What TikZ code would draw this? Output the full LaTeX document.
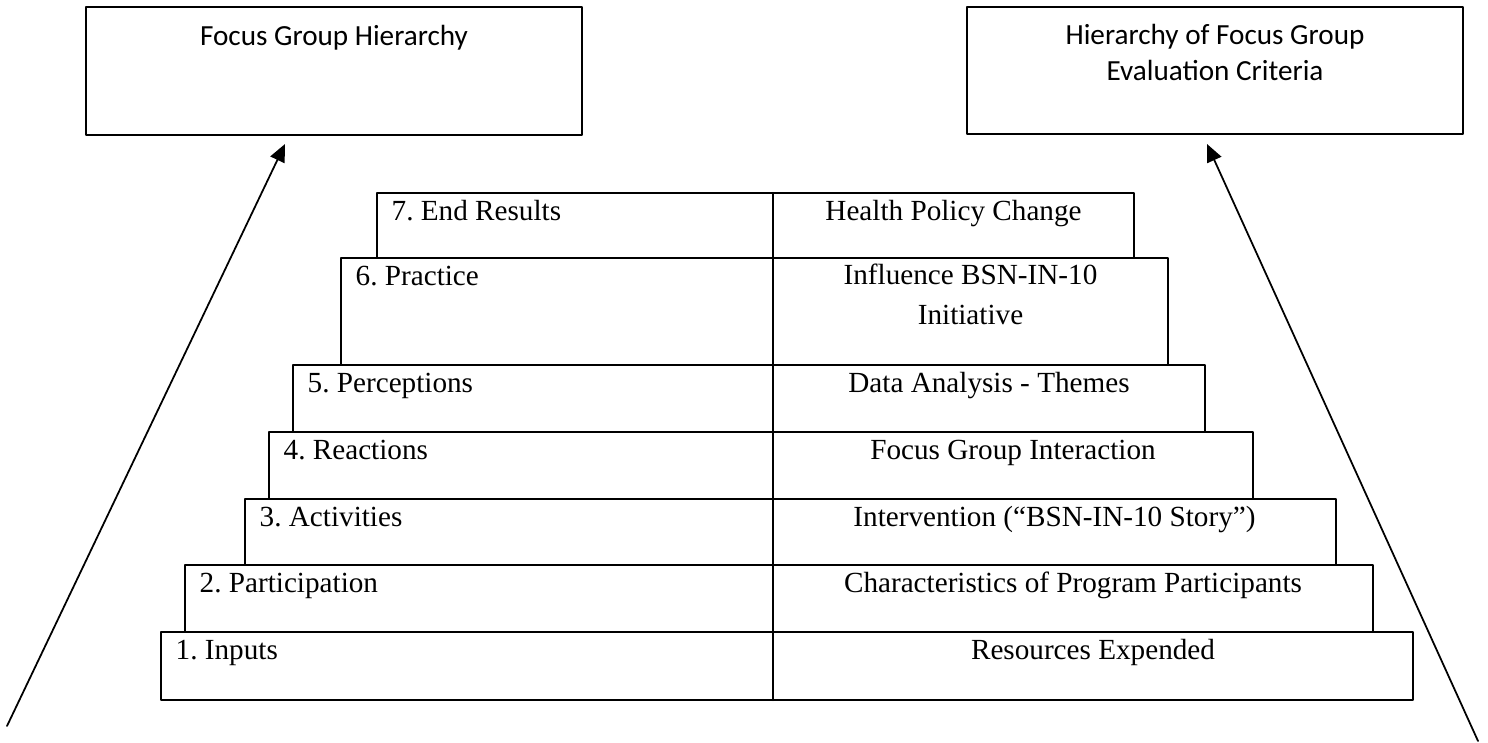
\documentclass[tikz,border=0pt]{standalone}
\usepackage{fontspec}
\setmainfont{Liberation Serif}
\newfontfamily\boxfont{Carlito}
\usetikzlibrary{arrows.meta}
\frenchspacing
\tikzset{
	stepbox/.style={line width=0.6pt},
	topbox/.style={line width=0.5pt},
	levellabel/.style={anchor=base west,inner sep=0pt,font=\fontsize{8.3}{11.2}\selectfont},
	critlabel/.style={anchor=base,inner sep=0pt,align=center,font=\fontsize{8.3}{11.2}\selectfont},
	boxlabel/.style={anchor=base,inner sep=0pt,align=center,font=\boxfont\fontsize{8.3}{10.2}\selectfont}
}
\begin{document}
\begin{tikzpicture}[line cap=round,line join=round,>={Triangle[length=5pt,width=4.4pt]},x=0.01cm,y=-0.01cm]
		\useasboundingbox (0,0) rectangle (1488,742);
		\draw[topbox] (86,7) rectangle (582,135);
		\draw[topbox] (967,7) rectangle (1463,134);
		\node[boxlabel] (hier) at (334,45) {Focus Group Hierarchy};
		\node[boxlabel] (crit) at (1215,80) {Hierarchy of Focus Group\\Evaluation Criteria};
		\draw[stepbox] (377,193) rectangle (1134,258);
		\draw[stepbox] (341,258) rectangle (1168,365);
		\draw[stepbox] (293,365) rectangle (1205,432);
		\draw[stepbox] (269,432) rectangle (1253,499);
		\draw[stepbox] (245,499) rectangle (1336,565);
		\draw[stepbox] (185,565) rectangle (1373,632);
		\draw[stepbox] (161,632) rectangle (1413,700);
		\draw[stepbox] (773,193)-- (773,700);
		\node[levellabel] (lvl7) at (391,220) {7. End Results};
		\node[critlabel] (crt7) at (953.5,220) {Health Policy Change};
		\node[levellabel] (lvl6) at (355,285) {6. Practice};
		\node[critlabel] (crt6) at (970.5,324) {Influence BSN-IN-10\\Initiative};
		\node[levellabel] (lvl5) at (307,392) {5. Perceptions};
		\node[critlabel] (crt5) at (989,392) {Data Analysis - Themes};
		\node[levellabel] (lvl4) at (283,459) {4. Reactions};
		\node[critlabel] (crt4) at (1013,459) {Focus Group Interaction};
		\node[levellabel] (lvl3) at (259,526) {3. Activities};
		\node[critlabel] (crt3) at (1054.5,526) {Intervention (“BSN-IN-10 Story”)};
		\node[levellabel] (lvl2) at (199,592) {2. Participation};
		\node[critlabel] (crt2) at (1073,592) {Characteristics of Program Participants};
		\node[levellabel] (lvl1) at (175,659) {1. Inputs};
		\node[critlabel] (crt1) at (1093,659) {Resources Expended};
		\coordinate (hierfoot) at (7,726);
		\coordinate (hiertip) at (285,144);
		\coordinate (critfoot) at (1478,741);
		\coordinate (crittip) at (1207,144);
		\draw[line width=0.5pt,->] (hierfoot)-- (hiertip);
		\draw[line width=0.5pt,->] (critfoot)-- (crittip);
	\end{tikzpicture}
\end{document}
